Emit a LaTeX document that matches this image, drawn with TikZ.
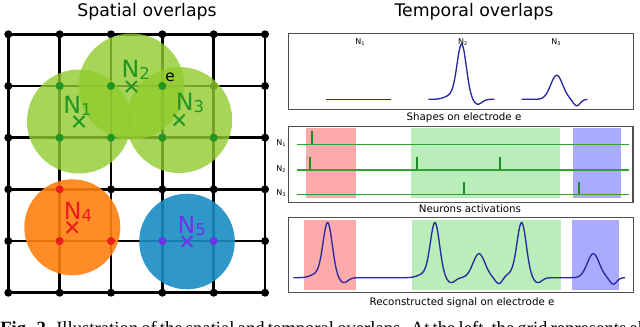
\documentclass[tikz,border=0pt]{standalone}
\usepackage{fontspec}
\setmainfont{DejaVu Sans}
\newfontfamily\capfont{Liberation Serif}
\definecolor{gcirc}{RGB}{145,203,45}
\definecolor{ocirc}{RGB}{255,127,14}
\definecolor{bcirc}{RGB}{25,140,195}
\definecolor{lgreen}{RGB}{34,150,34}
\definecolor{lred}{RGB}{235,30,30}
\definecolor{lpurple}{RGB}{110,50,235}
\definecolor{shred}{RGB}{255,170,170}
\definecolor{shgreen}{RGB}{185,237,185}
\definecolor{shblue}{RGB}{170,170,255}
\definecolor{sigblue}{RGB}{40,40,160}
\definecolor{rowgreen}{RGB}{50,160,50}
\definecolor{spkgreen}{RGB}{30,140,30}
\definecolor{boxgray}{RGB}{80,80,80}
\begin{document}
\begin{tikzpicture}[x=0.75pt,y=-0.75pt,
  gridline/.style={line width=2pt,black},
  panelbox/.style={draw=boxgray,line width=1.1pt},
  sigline/.style={sigblue,line width=1pt},
  rowline/.style={rowgreen,line width=0.8pt},
  spike/.style={spkgreen,line width=1.6pt},
  crossmark/.style={line width=1.5pt},
  bigtitle/.style={font=\fontsize{13pt}{15pt}\selectfont,anchor=base,inner sep=0},
  paneltext/.style={font=\fontsize{7.7pt}{9pt}\selectfont,anchor=base,inner sep=0},
  tinytext/.style={font=\fontsize{6pt}{7pt}\selectfont,inner sep=0},
  nlabel/.style={font=\fontsize{17.8pt}{19pt}\selectfont,anchor=base west,inner sep=0},
  declare function={
    gs(\t)=exp(-min(\t*\t,40));
    big(\t)=54*gs(\t/6.5)-5*gs((\t-16)/6)+4*gs((\t+10)/9);
    small(\t)=24*gs(\t/8.5)-6.5*gs((\t-20)/5);
  }]
\useasboundingbox (0,0) rectangle (640,326);
\newcommand\nsub[1]{\raisebox{-1.5pt}{\fontsize{12.3pt}{13pt}\selectfont #1}}
\newcommand\tsub[1]{\raisebox{-0.8pt}{\fontsize{3.8pt}{4pt}\selectfont #1}}

% ---------- Spatial overlaps ----------
\node[bigtitle] (t1) at (147,16.5) {Spatial overlaps};
\foreach \i in {0,...,5} {
  \draw[gridline] ({8.3+51.35*\i},34.3) -- ({8.3+51.35*\i},292.7);
  \draw[gridline] (8.3,{34.3+51.68*\i}) -- (265,{34.3+51.68*\i});
}
\foreach \i in {0,...,5} \foreach \j in {0,...,5}
  \fill ({8.3+51.35*\i},{34.3+51.68*\j}) circle[radius=3pt];

\coordinate (c1) at (79,121.5);
\coordinate (c2) at (131.5,86.5);
\coordinate (c3) at (179.2,120);
\coordinate (c4) at (72.3,227.3);
\coordinate (c5) at (187,241.5);
\fill[gcirc,fill opacity=0.8] (c1) circle[radius=39pt];
\fill[gcirc,fill opacity=0.8] (c2) circle[radius=39.75pt];
\fill[gcirc,fill opacity=0.8] (c3) circle[radius=39.75pt];
\fill[ocirc,fill opacity=0.9] (c4) circle[radius=36pt];
\fill[bcirc,fill opacity=0.9] (c5) circle[radius=35.85pt];

\foreach \i/\j in {1/1,2/1,3/1,1/2,2/2,3/2,4/2}
  \fill[lgreen] ({8.3+51.35*\i},{34.3+51.68*\j}) circle[radius=3pt];
\foreach \i/\j in {1/3,1/4,2/4}
  \fill[lred] ({8.3+51.35*\i},{34.3+51.68*\j}) circle[radius=3pt];
\foreach \i/\j in {3/4,4/4}
  \fill[lpurple] ({8.3+51.35*\i},{34.3+51.68*\j}) circle[radius=3pt];

\foreach \c/\col in {c1/lgreen,c2/lgreen,c3/lgreen,c4/lred,c5/lpurple}
  \draw[crossmark,\col] (\c) +(-5.5,-5.5) -- +(5.5,5.5) +(-5.5,5.5) -- +(5.5,-5.5);

\node[nlabel,text=lgreen] (n1) at (63,113.3) {N\nsub{1}};
\node[nlabel,text=lgreen] (n2) at (121.3,77.3) {N\nsub{2}};
\node[nlabel,text=lgreen] (n3) at (175.7,110) {N\nsub{3}};
\node[nlabel,text=lred] (n4) at (63.7,219.3) {N\nsub{4}};
\node[nlabel,text=lpurple] (n5) at (177.3,233.3) {N\nsub{5}};
\node[font=\fontsize{11.5pt}{12pt}\selectfont,inner sep=0] (e) at (170,77) {e};

% ---------- Temporal overlaps ----------
\node[bigtitle] (t2) at (474,16) {Temporal overlaps};

% panel 1: shapes
\draw[panelbox] (288.5,33.3) rectangle (633.5,109.3);
\node[tinytext] (s1) at (360,41.7) {N\tsub{1}};
\node[tinytext] (s2) at (462.7,41.7) {N\tsub{2}};
\node[tinytext] (s3) at (556,41.7) {N\tsub{3}};
\draw[sigline] (325.7,99.3) -- (391,99.3);
\draw[sigline] plot[domain=428.3:494.3,samples=90,smooth] (\x,{99.3-big(\x-461.7)});
\draw[sigline] plot[domain=521.7:587.3,samples=90,smooth] (\x,{99.3-small(\x-556.7)});
\node[paneltext] (l1) at (464,120.5) {Shapes on electrode e};

% panel 2: activations
\fill[shred] (306,128.3) rectangle (356,197.7);
\fill[shgreen] (411,128.3) rectangle (560,197.7);
\fill[shblue] (573.3,128.3) rectangle (620.7,197.7);
\draw[panelbox] (288.5,126.7) rectangle (633,202.3);
\draw[rowline] (296.7,144.3) -- (629,144.3);
\draw[rowline] (296.7,170) -- (629,170);
\draw[rowline] (296.7,194.3) -- (629,194.3);
\foreach \x in {311.7} \draw[spike] (\x,144.3) -- (\x,131);
\foreach \x in {310,416.7,500} \draw[spike] (\x,170) -- (\x,157);
\foreach \x in {464,579.3} \draw[spike] (\x,194.3) -- (\x,181.7);
\node[tinytext] (r1) at (281,142.7) {N\tsub{1}};
\node[tinytext] (r2) at (281,169.3) {N\tsub{2}};
\node[tinytext] (r3) at (281,193.3) {N\tsub{3}};
\node[paneltext] (l2) at (470,212.3) {Neurons activations};

% panel 3: reconstructed signal
\fill[shred] (304,220) rectangle (355.7,290);
\fill[shgreen] (411.7,220) rectangle (561,290);
\fill[shblue] (571.7,220) rectangle (619,290);
\draw[panelbox] (288.5,217.3) rectangle (633.3,292.7);
\draw[sigline] plot[domain=293.3:625,samples=420,smooth]
  (\x,{277.7-big(\x-327.7)-big(\x-435)-big(\x-521.7)-small(\x-479)-small(\x-593.3)});
\node[paneltext] (l3) at (462,305) {Reconstructed signal on electrode e};

% caption (clipped at the bottom edge, as in the reference)
\node[anchor=base west,inner sep=0,font=\capfont\fontsize{14pt}{16pt}\selectfont] (capt) at (0,334)
  {\makebox[505pt][s]{\textbf{Fig. 2.} Illustration of the spatial and temporal overlaps. At the left, the grid represents electrodes, with an example of 3}};
\end{tikzpicture}
\end{document}
